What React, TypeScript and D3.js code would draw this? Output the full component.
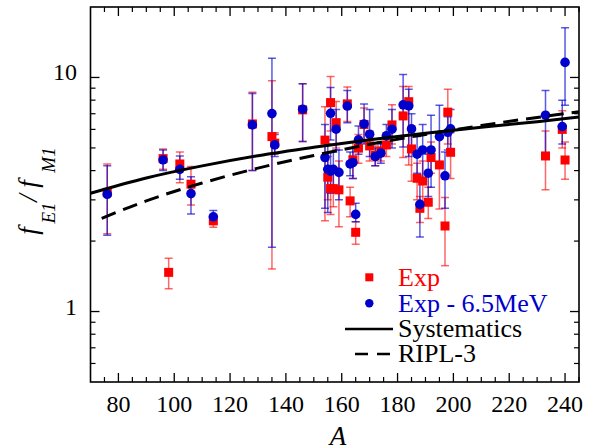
import React from "react";
import * as d3 from "d3";

// ---------- data ----------
const massNumbers = [76, 96, 98, 102, 106, 114, 128, 135, 136, 146, 154, 155, 156, 156, 157, 158, 159, 162, 163, 164, 165, 166, 168, 170, 172, 174, 176, 178, 182, 184, 185, 187, 188, 189, 191, 192, 195, 197, 198, 199, 233, 239, 240];

const expValues = [3.23, 4.5, 1.47, 4.27, 3.5, 2.44, 6.33, 5.59, 5.24, 7.27, 5.4, 3.75, 3.35, 7.81, 3.35, 6.41, 3.31, 7.71, 2.97, 4.45, 2.18, 4.99, 6.3, 5.1, 4.65, 4.85, 5.15, 6.27, 6.85, 7.88, 4.95, 3.71, 2.76, 3.61, 2.93, 4.55, 4.23, 2.32, 7.11, 4.79, 4.62, 6.0, 4.44];
const expLow = [2.15, 4.05, 1.25, 3.55, 2.85, 2.29, 4.0, 1.52, 4.7, 5.32, 2.44, 3.0, 2.6, 5.9, 2.8, 5.0, 2.3, 6.48, 2.54, 3.7, 1.94, 4.3, 5.3, 4.4, 4.2, 4.4, 4.6, 5.2, 4.55, 4.23, 3.6, 3.0, 2.4, 2.95, 2.5, 3.9, 2.74, 1.57, 5.2, 3.7, 3.31, 5.0, 3.67];
const expHigh = [4.27, 4.95, 1.69, 4.8, 4.16, 2.6, 8.65, 9.67, 5.8, 9.39, 7.5, 4.6, 4.2, 10.1, 4.0, 7.9, 4.4, 9.1, 3.4, 5.3, 2.42, 5.7, 7.4, 5.9, 5.1, 5.3, 5.8, 7.65, 9.14, 9.14, 6.2, 4.3, 3.1, 4.4, 3.4, 5.3, 5.5, 3.07, 8.9, 5.8, 5.9, 7.2, 5.3];

const corrValues = [3.17, 4.45, null, 4.05, 3.19, 2.54, 6.27, 7.01, 5.15, 7.32, 4.55, 4.05, 3.98, 7.03, 4.05, 6.01, 3.93, 7.55, 4.27, 4.33, 2.6, 5.41, 6.33, 5.72, 4.59, 4.75, 5.63, 6.01, 7.64, 7.56, 6.03, 4.7, 2.87, 4.9, 3.9, 4.9, 5.59, 3.8, 5.83, 6.03, 6.9, 6.17, 11.6];
const corrLow = [2.12, 4.0, null, 3.67, 2.61, 2.4, 4.0, 1.88, 4.6, 5.32, 2.76, 2.65, 3.2, 5.4, 3.4, 4.9, 3.0, 6.4, 3.8, 3.7, 2.42, 4.7, 5.2, 4.6, 4.2, 4.3, 5.0, 5.0, 5.04, 4.59, 5.1, 3.9, 2.08, 3.7, 3.1, 3.4, 4.2, 2.76, 4.9, 4.8, 4.7, 5.2, 7.6];
const corrHigh = [4.2, 4.9, null, 4.62, 3.77, 2.7, 8.55, 12.08, 5.7, 9.39, 6.3, 5.2, 4.8, 9.05, 4.8, 7.3, 4.9, 8.8, 4.8, 5.0, 2.9, 6.2, 7.7, 7.3, 5.0, 5.2, 6.3, 7.3, 10.3, 8.9, 7.0, 5.6, 3.7, 6.3, 4.7, 6.9, 7.6, 4.8, 6.8, 7.3, 8.8, 8.0, 16.3];

const systematicsA = [70, 90, 110, 130, 150, 170, 190, 210, 230, 245];
const systematicsV = [3.2, 3.72, 4.19, 4.63, 5.03, 5.42, 5.78, 6.13, 6.47, 6.78];

const riplA = [74, 90, 110, 130, 150, 170, 190, 210, 230, 245];
const riplV = [2.5, 2.97, 3.54, 4.1, 4.64, 5.18, 5.71, 6.23, 6.75, 7.13];

const xTickLabels = [80, 100, 120, 140, 160, 180, 200, 220, 240];
const yTickLabels = [1, 10];

// ---------- layout ----------
const W = 601;
const H = 448;
const left = 90.5;
const right = 579;
const top = 7;
const bottom = 382;
const FONT = "'Liberation Serif', 'Times New Roman', serif";

const x = d3.scaleLinear().domain([70, 245]).range([left, right]);
const y = d3.scaleLog().domain([0.5, 20]).range([bottom, top]);

const RED = "#ff0000";
const BLUE = "#0000cc";
const RED_BAR = "rgba(255,0,0,0.6)";
const BLUE_BAR = "rgba(0,0,210,0.65)";

export default function App() {
  const lineGen = d3
    .line<[number, number]>()
    .x((d) => x(d[0]))
    .y((d) => y(d[1]))
    .curve(d3.curveMonotoneX);

  const sysPath = lineGen(systematicsA.map((a, i) => [a, systematicsV[i]]) as [number, number][]) || "";
  const riplPath = lineGen(riplA.map((a, i) => [a, riplV[i]]) as [number, number][]) || "";

  const xMinor = d3.range(75, 246, 5).filter((v) => v % 20 !== 0);
  const yMinor = [0.6, 0.7, 0.8, 0.9, 2, 3, 4, 5, 6, 7, 8, 9];

  const cap = 4;
  const sq = 9;

  return (
    <svg
      width={W}
      height={H}
      style={{ position: "absolute", left: 0, top: 0, background: "#fff" }}
      fontFamily={FONT}
    >
      <defs>
        <clipPath id="plotclip">
          <rect x={left} y={top} width={right - left} height={bottom - top} />
        </clipPath>
      </defs>

      {/* error bars */}
      <g clipPath="url(#plotclip)">
        {massNumbers.map((a, i) => {
          const cx = x(a);
          const lo = y(expLow[i]);
          const hi = y(expHigh[i]);
          return (
            <g key={"re" + i} stroke={RED_BAR} strokeWidth={1.5} fill="none">
              <line x1={cx} x2={cx} y1={lo} y2={hi} />
              <line x1={cx - cap} x2={cx + cap} y1={lo} y2={lo} />
              <line x1={cx - cap} x2={cx + cap} y1={hi} y2={hi} />
            </g>
          );
        })}
        {massNumbers.map((a, i) => {
          if (corrValues[i] == null) return null;
          const cx = x(a);
          const lo = y(corrLow[i] as number);
          const hi = y(corrHigh[i] as number);
          return (
            <g key={"be" + i} stroke={BLUE_BAR} strokeWidth={1.5} fill="none">
              <line x1={cx} x2={cx} y1={lo} y2={hi} />
              <line x1={cx - cap} x2={cx + cap} y1={lo} y2={lo} />
              <line x1={cx - cap} x2={cx + cap} y1={hi} y2={hi} />
            </g>
          );
        })}

        {/* markers */}
        {massNumbers.map((a, i) => (
          <rect
            key={"rs" + i}
            x={x(a) - sq / 2}
            y={y(expValues[i]) - sq / 2}
            width={sq}
            height={sq}
            fill={RED}
          />
        ))}
        {massNumbers.map((a, i) =>
          corrValues[i] == null ? null : (
            <circle key={"bc" + i} cx={x(a)} cy={y(corrValues[i] as number)} r={4.8} fill={BLUE} />
          )
        )}

        {/* curves */}
        <path d={sysPath} fill="none" stroke="#000" strokeWidth={3} />
        <path d={riplPath} fill="none" stroke="#000" strokeWidth={3} strokeDasharray="15,8" />
      </g>

      {/* frame */}
      <rect x={left} y={top} width={right - left} height={bottom - top} fill="none" stroke="#000" strokeWidth={1.6} />

      {/* x ticks */}
      {xTickLabels.map((v) => (
        <g key={"xt" + v} stroke="#000" strokeWidth={1.3}>
          <line x1={x(v)} x2={x(v)} y1={bottom} y2={bottom - 9} />
          <line x1={x(v)} x2={x(v)} y1={top} y2={top + 9} />
        </g>
      ))}
      {xMinor.map((v) => (
        <g key={"xm" + v} stroke="#000" strokeWidth={1.2}>
          <line x1={x(v)} x2={x(v)} y1={bottom} y2={bottom - 5} />
          <line x1={x(v)} x2={x(v)} y1={top} y2={top + 5} />
        </g>
      ))}
      {xTickLabels.map((v) => (
        <text key={"xl" + v} x={x(v)} y={412} textAnchor="middle" fontSize={24} fill="#000">
          {v}
        </text>
      ))}

      {/* y ticks */}
      {yTickLabels.map((v) => (
        <g key={"yt" + v} stroke="#000" strokeWidth={1.3}>
          <line x1={left} x2={left + 9} y1={y(v)} y2={y(v)} />
          <line x1={right} x2={right - 9} y1={y(v)} y2={y(v)} />
        </g>
      ))}
      {yMinor.map((v) => (
        <g key={"ym" + v} stroke="#000" strokeWidth={1.2}>
          <line x1={left} x2={left + 5} y1={y(v)} y2={y(v)} />
          <line x1={right} x2={right - 5} y1={y(v)} y2={y(v)} />
        </g>
      ))}
      {yTickLabels.map((v) => (
        <text key={"yl" + v} x={77} y={y(v) + 3} textAnchor="end" fontSize={24} fill="#000">
          {v}
        </text>
      ))}

      {/* axis titles */}
      <text x={338} y={445} textAnchor="middle" fontSize={27} fontStyle="italic" fill="#000">
        A
      </text>
      <g fontStyle="italic" fill="#000">
        <text transform="translate(37,231) rotate(-90)" textAnchor="middle" fontSize={27}>f</text>
        <text transform="translate(55,213) rotate(-90)" textAnchor="middle" fontSize={19}>E1</text>
        <text transform="translate(37,198) rotate(-90)" textAnchor="middle" fontSize={27}>/</text>
        <text transform="translate(37,184) rotate(-90)" textAnchor="middle" fontSize={27}>f</text>
        <text transform="translate(55,160) rotate(-90)" textAnchor="middle" fontSize={19}>M1</text>
      </g>

      {/* legend */}
      <rect x={369.3 - 4} y={277.3 - 4} width={8} height={8} fill={RED} />
      <text x={398} y={286} fontSize={26} fill={RED}>Exp</text>
      <circle cx={369.3} cy={303.3} r={4.2} fill={BLUE} />
      <text x={398} y={311.5} fontSize={26} fill={BLUE}>Exp - 6.5MeV</text>
      <line x1={345} x2={393} y1={329} y2={329} stroke="#000" strokeWidth={2.5} />
      <text x={398} y={337} fontSize={26} fill="#000">Systematics</text>
      <line x1={355} x2={391} y1={354} y2={354} stroke="#000" strokeWidth={2.5} strokeDasharray="13,9" />
      <text x={398} y={362} fontSize={26} fill="#000">RIPL-3</text>
    </svg>
  );
}
